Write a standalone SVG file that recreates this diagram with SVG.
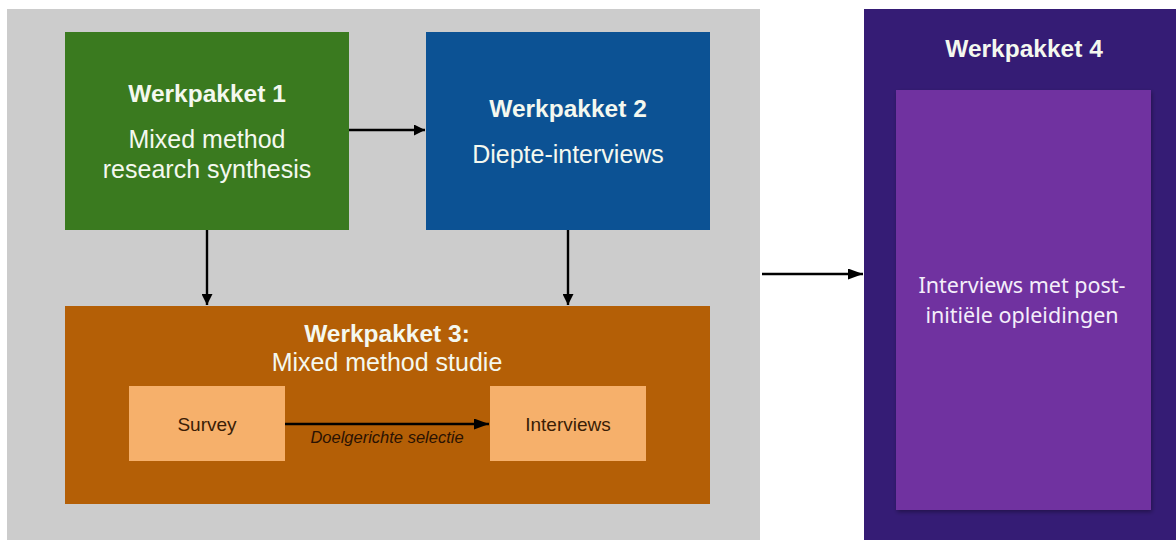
<svg xmlns="http://www.w3.org/2000/svg" width="1176" height="540" viewBox="0 0 1176 540">
<defs>
<marker id="ah" viewBox="0 0 10 10" refX="10" refY="5" markerWidth="11" markerHeight="11" markerUnits="userSpaceOnUse" orient="auto">
<path d="M0,0 L10,5 L0,10 z" fill="#000"/>
</marker>
<marker id="ahL" viewBox="0 0 10 10" refX="10" refY="5" markerWidth="15" markerHeight="11" markerUnits="userSpaceOnUse" orient="auto" preserveAspectRatio="none">
<path d="M0,0 L10,5 L0,10 z" fill="#000"/>
</marker>
<filter id="sh" x="-5%" y="-5%" width="110%" height="110%">
<feDropShadow dx="1" dy="2" stdDeviation="2" flood-color="#000" flood-opacity="0.35"/>
</filter>
</defs>
<style>
.t{font-family:"Liberation Sans",Arial,sans-serif;fill:#f4f8ef;text-anchor:middle}
.b{font-weight:bold;font-size:24.5px}
.r{font-size:25px}
.s{font-family:"Liberation Sans",Arial,sans-serif;font-size:19px;fill:#3a1d05;text-anchor:middle}
.c{stroke:#000;stroke-width:2.4;fill:none}
.w4{font-family:"Noto Sans","Open Sans",sans-serif;font-size:21.5px;fill:#f4eefa;text-anchor:middle}
</style>
<rect x="0" y="0" width="1176" height="540" fill="#ffffff"/>
<rect id="bg" x="7" y="9" width="753" height="531" fill="#cccccc"/>
<g id="wp1">
<rect x="65" y="32" width="284" height="198" fill="#3a7a1f"/>
<text class="t b" x="207" y="102">Werkpakket 1</text>
<text class="t r" x="207" y="148">Mixed method</text>
<text class="t r" x="207" y="178">research synthesis</text>
</g>
<g id="wp2">
<rect x="426" y="32" width="284" height="198" fill="#0c5294"/>
<text class="t b" x="568" y="117">Werkpakket 2</text>
<text class="t r" x="568" y="163">Diepte-interviews</text>
</g>
<g id="wp3">
<rect x="65" y="306" width="645" height="198" fill="#b45f06"/>
<text class="t b" x="387" y="342">Werkpakket 3:</text>
<text class="t r" x="387" y="371">Mixed method studie</text>
</g>
<g id="survey">
<rect x="129" y="386" width="156" height="75" fill="#f6b06b"/>
<text class="s" x="207" y="431">Survey</text>
</g>
<g id="interviews">
<rect x="490" y="386" width="156" height="75" fill="#f6b06b"/>
<text class="s" x="568" y="431">Interviews</text>
</g>
<g id="wp4">
<rect x="864" y="9" width="312" height="531" fill="#351c75"/>
<text class="t b" x="1024" y="57">Werkpakket 4</text>
<rect x="896" y="90" width="255" height="420" fill="#7030a0" filter="url(#sh)"/>
<text class="w4" x="1022" y="293">Interviews met post-</text>
<text class="w4" x="1022" y="323">initiële opleidingen</text>
</g>
<g id="connectors">
<line class="c" x1="349" y1="130" x2="425" y2="130" marker-end="url(#ah)"/>
<line class="c" x1="207" y1="230" x2="207" y2="305" marker-end="url(#ah)"/>
<line class="c" x1="568" y1="230" x2="568" y2="305" marker-end="url(#ah)"/>
<line class="c" x1="285" y1="424" x2="489" y2="424" marker-end="url(#ahL)"/>
<line class="c" x1="762" y1="274" x2="863" y2="274" marker-end="url(#ahL)"/>
<text x="387" y="443" style="font-family:'Liberation Sans',Arial,sans-serif;font-style:italic;font-size:16.5px;fill:#2a1203;text-anchor:middle">Doelgerichte selectie</text>
</g>
</svg>
